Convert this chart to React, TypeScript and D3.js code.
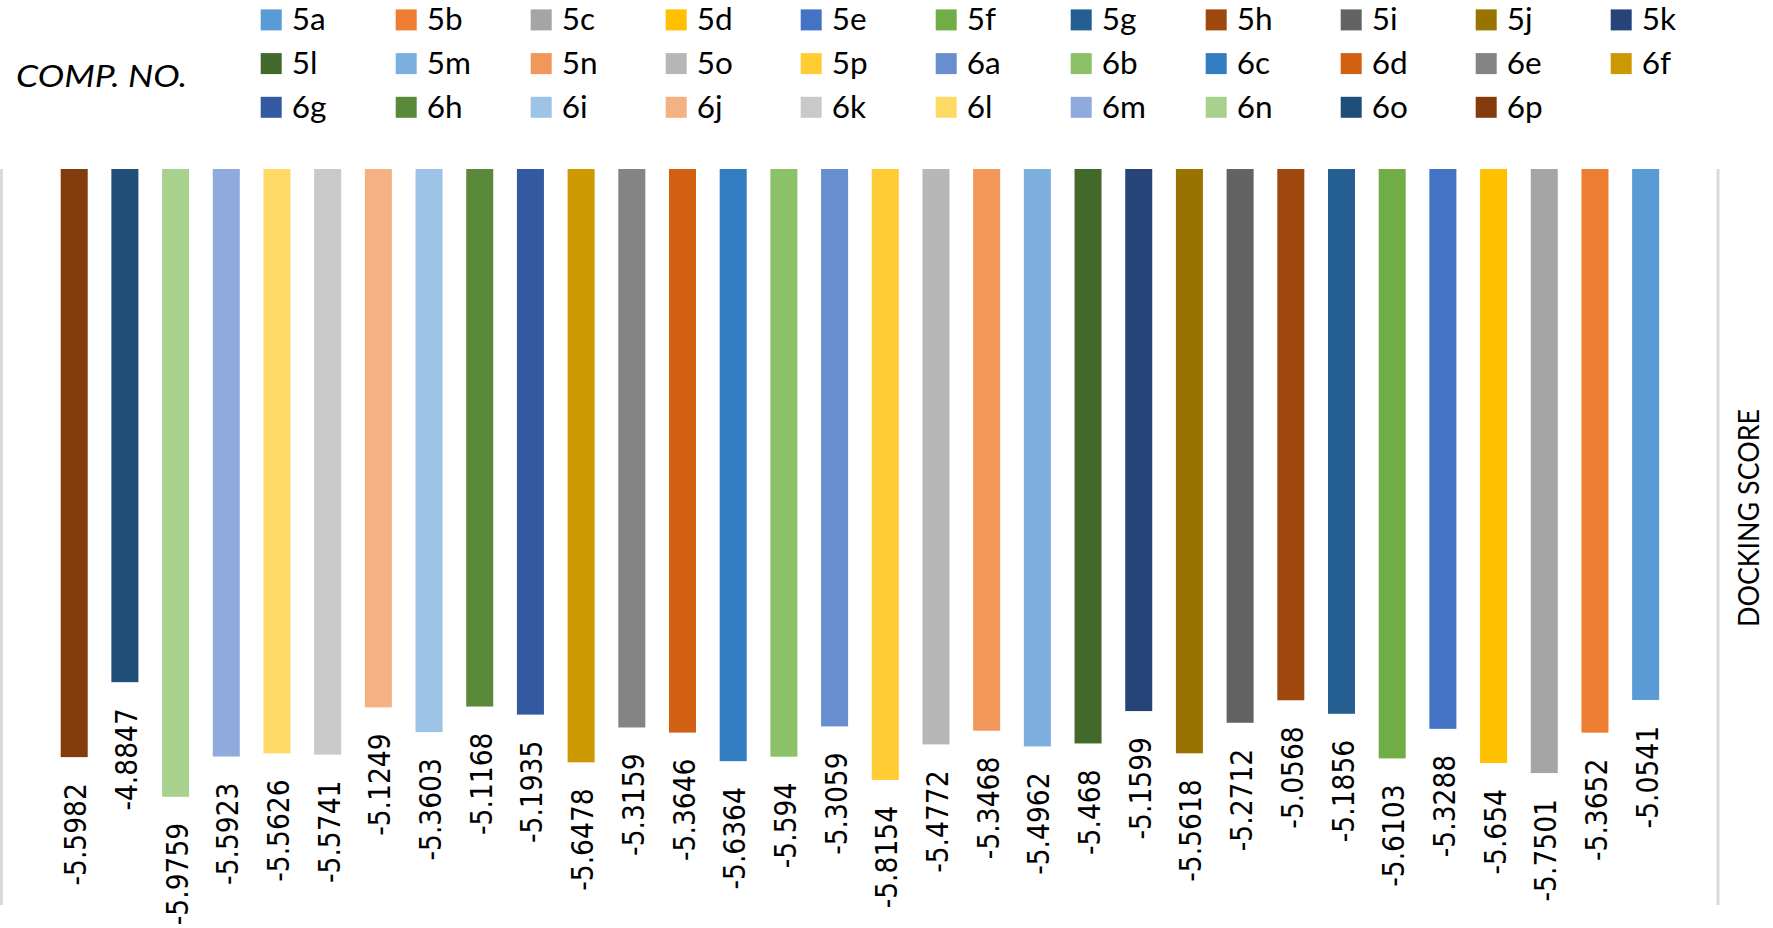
import React from "react";
import * as d3 from "d3";

const compounds = ["5a","5b","5c","5d","5e","5f","5g","5h","5i","5j","5k","5l","5m","5n","5o","5p","6a","6b","6c","6d","6e","6f","6g","6h","6i","6j","6k","6l","6m","6n","6o","6p"];
const scores = [-5.0541,-5.3652,-5.7501,-5.654,-5.3288,-5.6103,-5.1856,-5.0568,-5.2712,-5.5618,-5.1599,-5.468,-5.4962,-5.3468,-5.4772,-5.8154,-5.3059,-5.594,-5.6364,-5.3646,-5.3159,-5.6478,-5.1935,-5.1168,-5.3603,-5.1249,-5.5741,-5.5626,-5.5923,-5.9759,-4.8847,-5.5982];
const colors = ["#5B9BD5","#ED7D31","#A5A5A5","#FFC000","#4472C4","#70AD47","#255E91","#9E480E","#636363","#997300","#264478","#43682B","#7CAFDD","#F1975A","#B7B7B7","#FFCD33","#698ED0","#8CC168","#327DC2","#D26012","#848484","#CC9A00","#335AA1","#5A8A39","#9DC3E6","#F4B183","#C9C9C9","#FFD966","#8FAADC","#A9D18E","#1F4E79","#843C0C"];
const valueDomain = [0, -7];
const legendTitle = "COMP. NO.";
const axisTitle = "DOCKING SCORE";

const W = 1773, H = 928;

export default function App() {
  const x = d3.scaleBand<string>()
    .domain(compounds.slice().reverse())
    .range([48.85, 1671])
    .paddingInner(0.467)
    .paddingOuter(0.2335);
  const y = d3.scaleLinear().domain(valueDomain).range([169, 904.4]);
  const legendCols = 11;
  return (
    <svg width={W} height={H} style={{ position: "absolute", left: 0, top: 0, background: "#fff" }}>
      <rect x={0} y={0} width={W} height={H} fill="#fff" />
      {/* frame lines */}
      <line x1={1.5} x2={1.5} y1={y(0)} y2={905} stroke="#d9d9d9" strokeWidth={3} />
      <line x1={1718} x2={1718} y1={y(0)} y2={905} stroke="#d9d9d9" strokeWidth={3} />
      {/* bars */}
      {compounds.map((c, i) => (
        <rect key={c} x={x(c)} y={y(0)} width={x.bandwidth()} height={y(scores[i]) - y(0)} fill={colors[i]} />
      ))}
      {/* value labels */}
      {compounds.map((c, i) => {
        const cx = (x(c) as number) + x.bandwidth() / 2;
        const ye = y(scores[i]) + 26;
        return (
          <g key={"l" + c} transform={`translate(${cx},${ye}) rotate(-90) scale(0.9,1)`}>
            <text x={0} y={0} dy={12} textAnchor="end" fontFamily="DejaVu Sans" fontSize={29.5} fill="#000">
              {String(scores[i])}
            </text>
          </g>
        );
      })}
      {/* legend */}
      <text x={16} y={86.7} fontFamily="Lato" fontStyle="italic" fontSize={31.5} textLength={171} lengthAdjust="spacingAndGlyphs" fill="#000">
        {legendTitle}
      </text>
      {compounds.map((c, i) => {
        const col = i % legendCols;
        const row = Math.floor(i / legendCols);
        const lx = 260.7 + 135 * col;
        const ly = 9.4 + 43.7 * row;
        return (
          <g key={"lg" + c}>
            <rect x={lx} y={ly} width={21} height={21} fill={colors[i]} />
            <text x={lx + 31} y={ly + 21} fontFamily="Lato" fontSize={31.5} fill="#000">{c}</text>
          </g>
        );
      })}
      {/* axis title */}
      <text transform={`translate(1759,518) rotate(-90)`} textAnchor="middle" fontFamily="Lato" fontSize={28} textLength={218} lengthAdjust="spacingAndGlyphs" fill="#000">
        {axisTitle}
      </text>
    </svg>
  );
}
